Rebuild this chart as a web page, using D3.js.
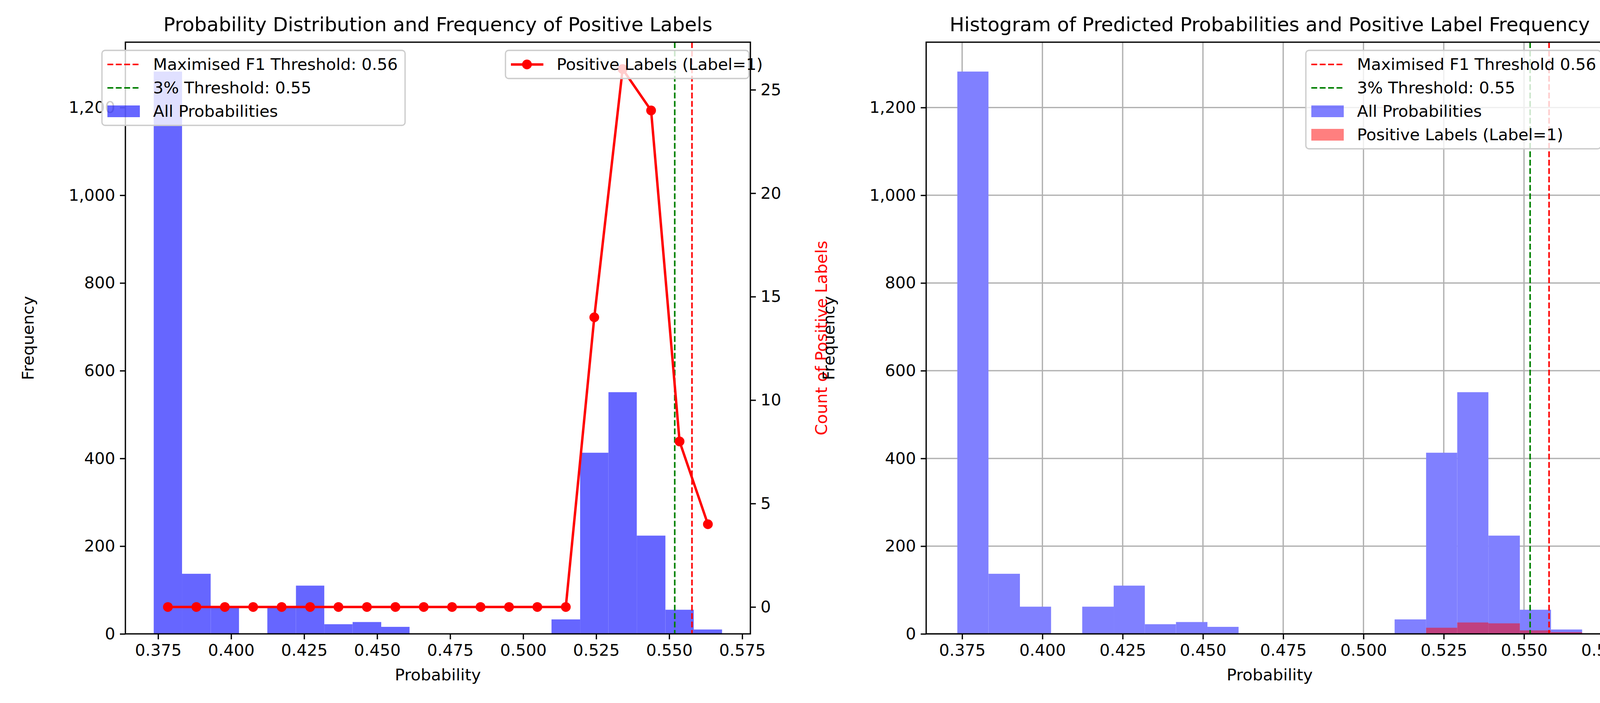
<!DOCTYPE html>
<html><head><meta charset="utf-8">
<script src="https://cdn.jsdelivr.net/npm/d3@7"></script>
<style>body{margin:0;background:#fff}svg{font-family:"DejaVu Sans",sans-serif}</style>
</head><body>
<script>
const binEdges=[0.3735,0.3832,0.3930,0.4027,0.4124,0.4222,0.4319,0.4416,0.4514,0.4611,0.4708,0.4805,0.4903,0.5000,0.5097,0.5195,0.5292,0.5389,0.5487,0.5584,0.5681];
const allCounts=[1282,137,62,0,62,110,22,27,16,0,0,0,0,0,33,413,551,224,55,10];
const posCounts=[0,0,0,0,0,0,0,0,0,0,0,0,0,0,0,14,26,24,8,4];
const xTicks=[0.375,0.400,0.425,0.450,0.475,0.500,0.525,0.550,0.575];
const yTicks=[0,200,400,600,800,1000,1200];
const y2Ticks=[0,5,10,15,20,25];
const f1Thr=0.5578, pctThr=0.5519;
const infoLines=["Hidden Size: 256","Number of Layers: 2","Batch Size: 128","Learning Rate: 0.001","alpha: 0.99","gamma: 10.0","","F1: 0.2364","Accuracy: 0.9720","Precision: 0.3939","Recall: 0.1688","","Total Test Players: 3004","Injured Test Players: 77","Predicted Injured Players: 33","","0s in 1s (False Negatives): 64","1s in 0s (False Positives): 20"];

const W=6300,H=1800,FS=41.7;
const svg=d3.select("body").append("svg").attr("width",W).attr("height",H);
const TOP=108,BOT=1623;
const bins=allCounts.map((c,i)=>({x0:binEdges[i],x1:binEdges[i+1],c,p:posCounts[i]}));

function panel(L,R,title,opt){
  const g=svg.append("g");
  const x=d3.scaleLinear().domain([0.3638,0.5778]).range([L,R]);
  const y=d3.scaleLinear().domain([0,1349]).range([BOT,TOP]);
  if(opt.grid){
    g.selectAll(".gx").data(xTicks).join("line").attr("x1",d=>x(d)).attr("x2",d=>x(d)).attr("y1",TOP).attr("y2",BOT).attr("stroke","#b0b0b0").attr("stroke-width",3.3);
    g.selectAll(".gy").data(yTicks).join("line").attr("y1",d=>y(d)).attr("y2",d=>y(d)).attr("x1",L).attr("x2",R).attr("stroke","#b0b0b0").attr("stroke-width",3.3);
  }
  g.selectAll(".b").data(bins.filter(b=>b.c>0)).join("rect").attr("x",d=>x(d.x0)).attr("width",d=>x(d.x1)-x(d.x0)).attr("y",d=>y(d.c)).attr("height",d=>BOT-y(d.c)).attr("fill",opt.blue);
  if(opt.redBars){
    g.selectAll(".rb").data(bins.filter(b=>b.p>0)).join("rect").attr("x",d=>x(d.x0)).attr("width",d=>x(d.x1)-x(d.x0)).attr("y",d=>y(d.p)).attr("height",d=>BOT-y(d.p)).attr("fill","red").attr("fill-opacity",0.5);
  }
  [[f1Thr,"red"],[pctThr,"green"]].forEach(([v,c])=>g.append("line").attr("x1",x(v)).attr("x2",x(v)).attr("y1",TOP).attr("y2",BOT).attr("stroke",c).attr("stroke-width",4).attr("stroke-dasharray","15,6.5"));
  const ax=g.append("g").attr("transform",`translate(0,${BOT})`).call(d3.axisBottom(x).tickValues(xTicks).tickFormat(d3.format(".3f")).tickSize(14).tickPadding(12));
  const ay=g.append("g").attr("transform",`translate(${L},0)`).call(d3.axisLeft(y).tickValues(yTicks).tickSize(14).tickPadding(12));
  [ax,ay].forEach(a=>{a.selectAll("text").attr("font-size",FS).attr("font-family","DejaVu Sans");a.selectAll("line").attr("stroke-width",3.3);a.select(".domain").remove();});
  g.append("rect").attr("x",L).attr("y",TOP).attr("width",R-L).attr("height",BOT-TOP).attr("fill","none").attr("stroke","#000").attr("stroke-width",3.3);
  g.append("text").attr("x",(L+R)/2).attr("y",80).attr("text-anchor","middle").attr("font-size",50).text(title);
  g.append("text").attr("x",(L+R)/2).attr("y",1742).attr("text-anchor","middle").attr("font-size",FS).text("Probability");
  g.append("text").attr("transform",`translate(${L-235},${(TOP+BOT)/2}) rotate(-90)`).attr("text-anchor","middle").attr("font-size",FS).text("Frequency");
  return {x,y,g};
}

function legend(g,x0,y0,w,items){
  const h=items.length*60+12;
  g.append("rect").attr("x",x0).attr("y",y0).attr("width",w).attr("height",h).attr("rx",8).attr("fill","#fff").attr("fill-opacity",0.8).attr("stroke","#ccc").attr("stroke-width",3.3);
  items.forEach((it,i)=>{
    const cy=y0+36+i*60, hx=x0+14;
    if(it.type==="dash") g.append("line").attr("x1",hx).attr("x2",hx+83).attr("y1",cy).attr("y2",cy).attr("stroke",it.c).attr("stroke-width",4).attr("stroke-dasharray","15,6.5");
    else if(it.type==="patch") g.append("rect").attr("x",hx).attr("y",cy-15).attr("width",83).attr("height",30).attr("fill",it.c).attr("fill-opacity",it.o);
    else {g.append("line").attr("x1",hx).attr("x2",hx+83).attr("y1",cy).attr("y2",cy).attr("stroke","red").attr("stroke-width",6.25);g.append("circle").attr("cx",hx+41).attr("cy",cy).attr("r",12.5).attr("fill","red");}
    g.append("text").attr("x",hx+117).attr("y",cy+14).attr("font-size",FS).text(it.t);
  });
}

const p1=panel(321,1921,"Probability Distribution and Frequency of Positive Labels",{blue:"#6666ff",grid:false,redBars:false});
const y2=d3.scaleLinear().domain([-1.3,27.3]).range([BOT,TOP]);
const line=d3.line().x(d=>p1.x((d.x0+d.x1)/2)).y(d=>y2(d.p));
p1.g.append("path").datum(bins).attr("d",line).attr("fill","none").attr("stroke","red").attr("stroke-width",6.25);
p1.g.selectAll(".pt").data(bins).join("circle").attr("cx",d=>p1.x((d.x0+d.x1)/2)).attr("cy",d=>y2(d.p)).attr("r",12.5).attr("fill","red");
const ar=p1.g.append("g").attr("transform","translate(1921,0)").call(d3.axisRight(y2).tickValues(y2Ticks).tickSize(14).tickPadding(12));
ar.selectAll("text").attr("font-size",FS).attr("font-family","DejaVu Sans");ar.selectAll("line").attr("stroke-width",3.3);ar.select(".domain").remove();
p1.g.append("text").attr("transform",`translate(2117,${(TOP+BOT)/2}) rotate(-90)`).attr("text-anchor","middle").attr("font-size",FS).attr("fill","red").text("Count of Positive Labels");
legend(p1.g,261,129,776,[{type:"dash",c:"red",t:"Maximised F1 Threshold: 0.56"},{type:"dash",c:"green",t:"3% Threshold: 0.55"},{type:"patch",c:"blue",o:0.6,t:"All Probabilities"}]);
legend(p1.g,1294,129,623,[{type:"line",t:"Positive Labels (Label=1)"}]);

const p2=panel(2371,4130,"Histogram of Predicted Probabilities and Positive Label Frequency",{blue:"#8080ff",grid:true,redBars:true});
legend(p2.g,3343,129,755,[{type:"dash",c:"red",t:"Maximised F1 Threshold 0.56"},{type:"dash",c:"green",t:"3% Threshold: 0.55"},{type:"patch",c:"blue",o:0.5,t:"All Probabilities"},{type:"patch",c:"red",o:0.5,t:"Positive Labels (Label=1)"}]);

svg.append("rect").attr("x",4994).attr("y",350).attr("width",768).attr("height",1028).attr("fill","#fff").attr("stroke","#808080").attr("stroke-width",4);
svg.append("g").selectAll("text").data(infoLines).join("text").attr("x",5378).attr("y",(d,i)=>386+i*55.5+18).attr("text-anchor","middle").attr("font-size",50).text(d=>d);
</script>
</body></html>
